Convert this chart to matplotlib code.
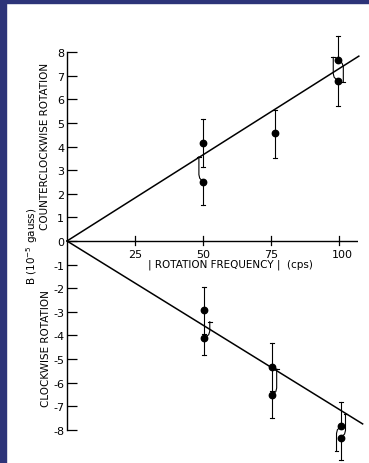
import matplotlib
matplotlib.use("Agg")
import matplotlib.pyplot as plt
from matplotlib.patches import Rectangle

# ---------------- data ----------------
# counterclockwise rotation
freq_ccw = [50.0, 50.0, 76.5, 99.5, 99.5]
b_ccw = [4.14, 2.51, 4.56, 7.68, 6.79]
err_ccw_lo = [1.00, 0.98, 1.03, 0.96, 1.06]
err_ccw_hi = [1.02, 1.06, 0.99, 1.02, 0.99]

# clockwise rotation
freq_cw = [50.5, 50.5, 75.5, 75.5, 100.7, 100.7]
b_cw = [-2.92, -4.12, -5.35, -6.53, -7.85, -8.33]
err_cw_lo = [1.00, 0.71, 1.00, 0.97, 1.03, 0.97]
err_cw_hi = [0.98, 0.70, 1.03, 1.11, 1.04, 1.00]

# fitted straight lines through the origin
fit_slope_ccw = 0.0730
fit_slope_cw = -0.0713
fit_end_ccw = 107.3
fit_end_cw = 108.7

x_ticks = [25, 50, 75, 100]
x_ticklabels = ["25", "50", "75", "100"]
y_ticks = list(range(-8, 9))
y_ticklabels = [("-%d" % -v) if v < 0 else str(v) for v in y_ticks]

# style: sideways offset (cps) of the half error bar that passes a partner point
shift_ccw_lo = [0, 0, 0, 2.1, 0]
shift_ccw_hi = [0, -1.5, 0, 0, -1.6]
shift_cw_lo = [0, 0, 0, 0, -1.6, 0]
shift_cw_hi = [0, 2.0, 0, 1.6, 0, 1.7]

# ---------------- figure ----------------
W, H = 369, 464
fig = plt.figure(figsize=(W / 100, H / 100), dpi=100)
fig.patch.set_facecolor("white")

x0_px, x1_px = 67, 358
y0_px, unit_px = 242, 23.6
ax = fig.add_axes([x0_px / W, 0, (x1_px - x0_px) / W, 1])
ax.set_xlim(0, 107.0)
ax.set_ylim(-(H - y0_px) / unit_px, y0_px / unit_px)
ax.patch.set_alpha(0)

for s in ["top", "right", "bottom"]:
    ax.spines[s].set_visible(False)
ax.spines["left"].set_bounds(-8, 8)
ax.spines["left"].set_linewidth(1.0)
ax.axhline(0, color="black", lw=1.0, xmin=0, xmax=1)

ax.set_yticks(y_ticks)
ax.set_yticklabels(y_ticklabels)
ax.tick_params(axis="y", direction="in", length=7, width=0.9, pad=2,
               labelsize=8)
ax.set_xticks([])
for xv, lab in zip(x_ticks, x_ticklabels):
    ax.plot([xv, xv], [-0.17, 0.23], color="black", lw=0.9, clip_on=False)
    ax.text(xv + (1.2 if xv == 100 else 0), -0.35, lab, ha="center", va="top",
            fontsize=8)

ax.text(60, -0.95, "| ROTATION FREQUENCY |  (cps)", ha="center", va="center",
        fontsize=7.5)

# fitted lines
ax.plot([0, fit_end_ccw], [0, fit_slope_ccw * fit_end_ccw], color="black",
        lw=1.1, clip_on=False)
ax.plot([0, fit_end_cw], [0, fit_slope_cw * fit_end_cw], color="black",
        lw=1.1, clip_on=False)

cap = 0.7


def half_bar(x, y, e, sign, shift):
    yend = y + sign * e
    if shift == 0:
        ax.plot([x, x], [y, yend], color="black", lw=0.8, clip_on=False)
    else:
        ys = y + sign * 0.3
        ax.plot([x, x + shift * 0.8, x + shift, x + shift],
                [y, y + sign * 0.15, ys, yend],
                color="black", lw=0.8, clip_on=False)
        x = x + shift
    ax.plot([x - cap, x + cap], [yend, yend], color="black", lw=0.8,
            clip_on=False)


for xs, ys, lo, hi, slo, shi in [
        (freq_ccw, b_ccw, err_ccw_lo, err_ccw_hi, shift_ccw_lo, shift_ccw_hi),
        (freq_cw, b_cw, err_cw_lo, err_cw_hi, shift_cw_lo, shift_cw_hi)]:
    for x, y, l, h, sl, sh in zip(xs, ys, lo, hi, slo, shi):
        half_bar(x, y, l, -1, sl)
        half_bar(x, y, h, 1, sh)
    ax.plot(xs, ys, "o", color="black", ms=4.6, clip_on=False, zorder=5)

# y labels
fig.text(32 / W, 1 - 246 / H, "B (10$^{-5}$ gauss)", rotation=90,
         ha="center", va="center", fontsize=7.5)
fig.text(45 / W, 1 - 146 / H, "COUNTERCLOCKWISE ROTATION", rotation=90,
         ha="center", va="center", fontsize=7.5)
fig.text(46 / W, 1 - 349 / H, "CLOCKWISE ROTATION", rotation=90,
         ha="center", va="center", fontsize=7.5)

# scan border
border = "#2d3479"
fig.patches.append(Rectangle((0, 0), 6 / W, 1, transform=fig.transFigure,
                             color=border, zorder=10))
fig.patches.append(Rectangle((0, 1 - 4 / H), 1, 4 / H,
                             transform=fig.transFigure, color=border,
                             zorder=10))

fig.savefig("out.png", dpi=100)
